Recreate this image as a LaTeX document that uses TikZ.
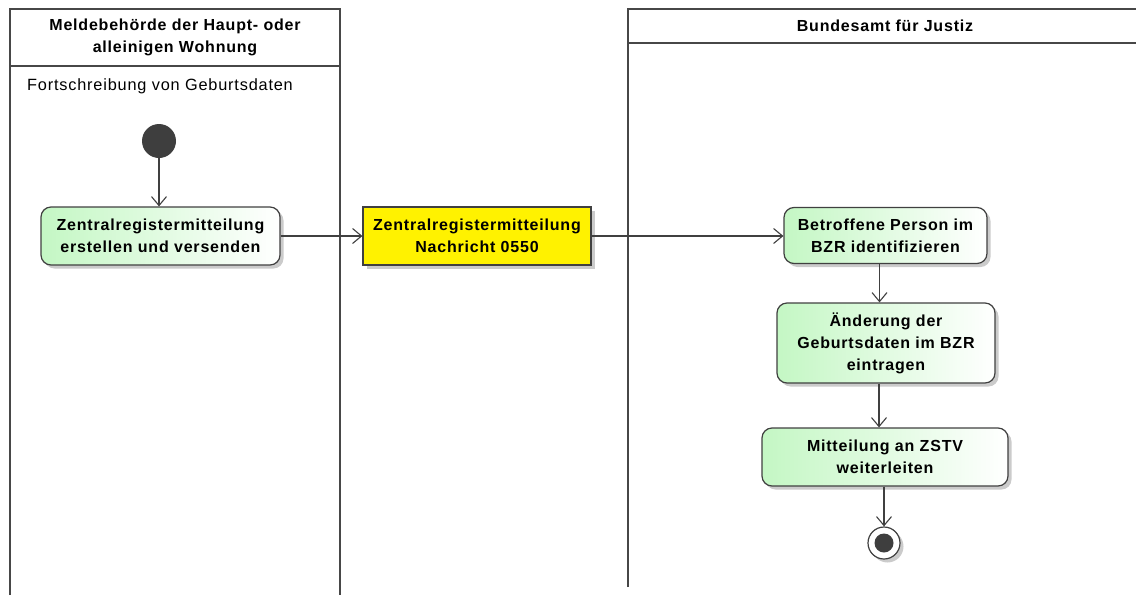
\documentclass[tikz,border=0pt]{standalone}
\usepackage{fontspec}
\setmainfont{Liberation Sans}[LetterSpace=5]
\usetikzlibrary{arrows.meta,shadows}
\definecolor{lanec}{HTML}{474747}
\definecolor{linec}{HTML}{404040}
\definecolor{dotc}{HTML}{3E3E3E}
\definecolor{actg}{HTML}{C4F7C4}
\tikzset{
  lane/.style={draw=lanec, line width=2pt},
  shad/.style={drop shadow={shadow xshift=3.5pt, shadow yshift=-3.5pt, fill=black!45, opacity=0.45}},
  txt/.style={font=\bfseries\fontsize{16}{22}\selectfont},
  act/.style={draw=linec, line width=1.2pt, rounded corners=10pt, left color=actg, right color=white,
    shad, align=center, inner sep=0pt, txt},
  msg/.style={draw=linec, line width=1.2pt, fill=yellow, shad, align=center, inner sep=0pt, txt},
  hdr/.style={align=center, inner sep=0pt, txt},
  flow/.style={draw=linec, line width=1.1pt, -{Straight Barb[length=9pt,width=15pt,line width=1.1pt]}},
}
\begin{document}
\begin{tikzpicture}[x=1pt,y=-1pt]
\useasboundingbox (0,0) rectangle (1136,595);
% swimlanes
\draw[lane] (10,595) -- (10,9) -- (340,9) -- (340,595);
\draw[lane] (10,66) -- (340,66);
\draw[lane] (628,587) -- (628,9) -- (1136,9);
\draw[lane] (628,43) -- (1136,43);
\node[hdr] (h1) at (175,37) {Meldebehörde der Haupt- oder\\alleinigen Wohnung};
\node[hdr] (h2) at (885,26) {Bundesamt für Justiz};
\node[anchor=west, inner sep=0pt, font=\fontsize{16.3}{18}\selectfont] (part) at (27,86) {Fortschreibung von Geburtsdaten};
% nodes
\node[circle, fill=dotc, minimum size=34pt, inner sep=0pt] (start) at (159,141) {};
\node[act, minimum width=239pt, minimum height=58pt] (a1) at (160.5,236) {Zentralregistermitteilung\\erstellen und versenden};
\node[msg, minimum width=228pt, minimum height=58pt] (m1) at (477,236) {Zentralregistermitteilung\\Nachricht 0550};
\node[act, minimum width=203pt, minimum height=56pt] (a2) at (885.5,235.5) {Betroffene Person im\\BZR identifizieren};
\node[act, minimum width=218pt, minimum height=80pt] (a3) at (886,343) {Änderung der\\Geburtsdaten im BZR\\eintragen};
\node[act, minimum width=246pt, minimum height=58pt] (a4) at (885,457) {Mitteilung an ZSTV\\weiterleiten};
\node[circle, draw=linec, line width=1.2pt, fill=white, minimum size=32pt, inner sep=0pt, shad] (stop) at (884,543) {};
\node[circle, fill=dotc, minimum size=19pt, inner sep=0pt] (stopin) at (stop.center) {};
% connectors
\draw[flow] (start) -- (start |- a1.north);
\draw[flow] (a1.east) -- (m1.west);
\draw[flow] (m1.east) -- (m1.east -| a2.west);
\draw[flow] ([xshift=-6pt]a2.south) -- ([xshift=-6pt]a2.south |- a3.north);
\draw[flow] ([xshift=-7pt]a3.south) -- ([xshift=-7pt]a3.south |- a4.north);
\draw[flow] (a4.south -| stop) -- (stop.north);
\end{tikzpicture}
\end{document}
